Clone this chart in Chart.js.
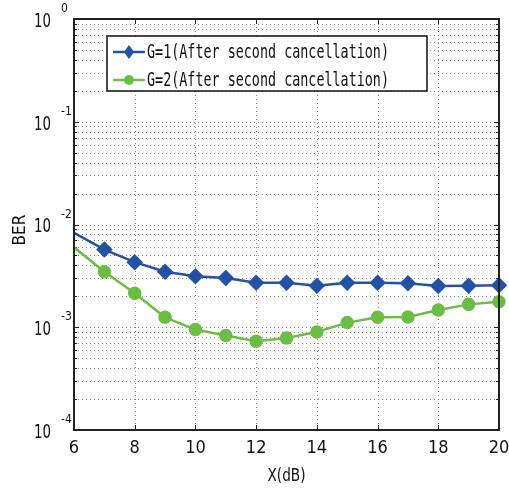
<!DOCTYPE html>
<html>
<head>
<meta charset="utf-8">
<script src="https://cdn.jsdelivr.net/npm/chart.js@4/dist/chart.umd.min.js"></script>
<style>
  html, body { margin: 0; padding: 0; background: #fff; }
  #wrap { width: 509px; height: 490px; }
</style>
</head>
<body>
<div id="wrap"><canvas id="chart" width="509" height="490"></canvas></div>
<script>
// data
const xValues = [6, 7, 8, 9, 10, 11, 12, 13, 14, 15, 16, 17, 18, 19, 20];
const berG1 = [8.3e-3, 5.7e-3, 4.3e-3, 3.47e-3, 3.13e-3, 3.02e-3, 2.71e-3, 2.71e-3, 2.53e-3, 2.71e-3, 2.71e-3, 2.68e-3, 2.52e-3, 2.53e-3, 2.56e-3];
const berG2 = [6.0e-3, 3.47e-3, 2.14e-3, 1.25e-3, 9.5e-4, 8.3e-4, 7.3e-4, 7.85e-4, 9.0e-4, 1.11e-3, 1.25e-3, 1.26e-3, 1.47e-3, 1.67e-3, 1.77e-3];
const labelG1 = "G=1(After second cancellation)";
const labelG2 = "G=2(After second cancellation)";
const xTicks = [6, 8, 10, 12, 14, 16, 18, 20];
const yExponents = [-4, -3, -2, -1, 0];

const blue = "#2352a5";
const green = "#6cbd45";
const narrow = "'Liberation Sans Narrow', 'DejaVu Sans Condensed', 'Liberation Sans', sans-serif";

// first point sits on the axis edge, matlab clipped its marker
const radii = (r) => xValues.map((x, i) => (i === 0 ? 0 : r));

// dotted grid, ticks and frame
const gridPlugin = {
  id: "grid",
  beforeDatasetsDraw(chart) {
    const { ctx, chartArea: a, scales } = chart;
    const xs = scales.x, ys = scales.y;
    ctx.save();
    ctx.strokeStyle = "#8a8a8a";
    ctx.lineWidth = 1;
    ctx.setLineDash([1, 3]);
    xTicks.forEach((t) => {
      const px = Math.round(xs.getPixelForValue(t)) + 0.5;
      ctx.beginPath();
      ctx.moveTo(px, a.top);
      ctx.lineTo(px, a.bottom);
      ctx.stroke();
    });
    for (let e = -4; e < 0; e++) {
      for (let m = 1; m <= 9; m++) {
        const py = Math.round(ys.getPixelForValue(m * Math.pow(10, e))) + 0.5;
        ctx.beginPath();
        ctx.moveTo(a.left, py);
        ctx.lineTo(a.right, py);
        ctx.stroke();
      }
    }
    ctx.setLineDash([]);
    ctx.strokeStyle = "#222";
    xTicks.forEach((t) => {
      const px = Math.round(xs.getPixelForValue(t)) + 0.5;
      ctx.beginPath();
      ctx.moveTo(px, a.bottom);
      ctx.lineTo(px, a.bottom - 5);
      ctx.moveTo(px, a.top);
      ctx.lineTo(px, a.top + 5);
      ctx.stroke();
    });
    for (let e = -4; e < 0; e++) {
      for (let m = 1; m <= 9; m++) {
        const py = Math.round(ys.getPixelForValue(m * Math.pow(10, e))) + 0.5;
        const len = m === 1 ? 5 : 3;
        ctx.beginPath();
        ctx.moveTo(a.left, py);
        ctx.lineTo(a.left + len, py);
        ctx.moveTo(a.right, py);
        ctx.lineTo(a.right - len, py);
        ctx.stroke();
      }
    }
    ctx.restore();
  },
  afterDatasetsDraw(chart) {
    const { ctx, chartArea: a } = chart;
    ctx.save();
    ctx.strokeStyle = "#222";
    ctx.lineWidth = 2;
    ctx.strokeRect(a.left, a.top, a.right - a.left, a.bottom - a.top);
    ctx.restore();
  }
};

// tick labels, axis titles, legend box
const textPlugin = {
  id: "texts",
  afterDraw(chart) {
    const { ctx, chartArea: a, scales } = chart;
    const xs = scales.x, ys = scales.y;
    ctx.save();
    ctx.fillStyle = "#111";
    ctx.textBaseline = "middle";

    ctx.textAlign = "center";
    ctx.font = "18px " + narrow;
    xTicks.forEach((t) => {
      ctx.fillText(String(t), xs.getPixelForValue(t), a.bottom + 18);
    });

    yExponents.forEach((e) => {
      const py = ys.getPixelForValue(Math.pow(10, e));
      ctx.textAlign = "right";
      ctx.font = "19px " + narrow;
      ctx.fillText("10", 51, py + 3, 17);
      ctx.textAlign = "left";
      ctx.font = "12px " + narrow;
      ctx.fillText(String(e), 61, py - 10);
    });

    ctx.textAlign = "center";
    ctx.font = "17px " + narrow;
    ctx.fillText("X(dB)", (a.left + a.right) / 2, 477, 38);

    ctx.save();
    ctx.translate(21, 230);
    ctx.rotate(-Math.PI / 2);
    ctx.fillText("BER", 0, 0);
    ctx.restore();

    // legend
    const bx = 107, by = 36, bw = 320, bh = 55;
    ctx.fillStyle = "#fff";
    ctx.fillRect(bx, by, bw, bh);
    ctx.strokeStyle = "#111";
    ctx.lineWidth = 1.5;
    ctx.strokeRect(bx, by, bw, bh);

    const rows = [
      { label: labelG1, color: blue, y: 52, diamond: true },
      { label: labelG2, color: green, y: 80, diamond: false }
    ];
    rows.forEach((r) => {
      ctx.strokeStyle = r.color;
      ctx.lineWidth = 2.5;
      ctx.beginPath();
      ctx.moveTo(113, r.y);
      ctx.lineTo(145, r.y);
      ctx.stroke();
      ctx.fillStyle = r.color;
      ctx.beginPath();
      if (r.diamond) {
        ctx.moveTo(129, r.y - 7);
        ctx.lineTo(134, r.y);
        ctx.lineTo(129, r.y + 7);
        ctx.lineTo(124, r.y);
        ctx.closePath();
      } else {
        ctx.arc(129, r.y, 5, 0, Math.PI * 2);
      }
      ctx.fill();
      ctx.fillStyle = "#111";
      ctx.textAlign = "left";
      ctx.font = "19px 'DejaVu Sans Mono', 'Liberation Mono', monospace";
      ctx.fillText(r.label, 147, r.y + 1, 242);
    });
    ctx.restore();
  }
};

const hiddenAxis = {
  grid: { display: false, drawTicks: false, tickLength: 0 },
  border: { display: false },
  ticks: { display: false, padding: 0 }
};

const config = {
  type: "line",
  data: {
    labels: xValues,
    datasets: [
      {
        label: labelG1,
        data: xValues.map((x, i) => ({ x, y: berG1[i] })),
        borderColor: blue,
        backgroundColor: blue,
        borderWidth: 2.5,
        pointStyle: "rectRot",
        pointRadius: radii(6.5),
        pointHoverRadius: radii(6.5),
        tension: 0,
        clip: { left: 0, top: 0, right: 10, bottom: 0 }
      },
      {
        label: labelG2,
        data: xValues.map((x, i) => ({ x, y: berG2[i] })),
        borderColor: green,
        backgroundColor: green,
        borderWidth: 2.5,
        pointStyle: "circle",
        pointRadius: radii(5.5),
        pointHoverRadius: radii(5.5),
        tension: 0,
        clip: { left: 0, top: 0, right: 10, bottom: 0 }
      }
    ]
  },
  options: {
    responsive: false,
    animation: false,
    events: [],
    layout: { padding: { left: 74, right: 10, top: 19, bottom: 60 } },
    plugins: { legend: { display: false }, tooltip: { enabled: false } },
    scales: {
      x: Object.assign({ type: "linear", min: 6, max: 20 }, hiddenAxis),
      y: Object.assign({ type: "logarithmic", min: 1e-4, max: 1 }, hiddenAxis)
    }
  },
  plugins: [gridPlugin, textPlugin]
};

const chart = new Chart(document.getElementById("chart"), config);
</script>
</body>
</html>
